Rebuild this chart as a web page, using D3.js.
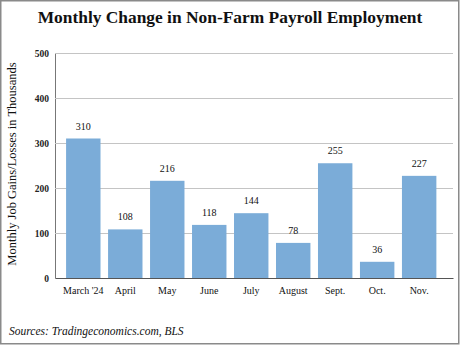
<!DOCTYPE html>
<html>
<head>
<meta charset="utf-8">
<script src="https://cdn.jsdelivr.net/npm/d3@7"></script>
<style>
  html, body { margin: 0; padding: 0; background: #fff; }
  svg { display: block; }
</style>
</head>
<body>
<svg id="chart" width="460" height="345"></svg>
<script>
// Monthly change in non-farm payrolls, thousands
const months = ["March '24", "April", "May", "June", "July", "August", "Sept.", "Oct.", "Nov."];
const jobGains = [310, 108, 216, 118, 144, 78, 255, 36, 227];
const yTicks = [0, 100, 200, 300, 400, 500];

const titleText = "Monthly Change in Non-Farm Payroll Employment";
const yTitleText = "Monthly Job Gains/Losses in Thousands";
const sourceText = "Sources: Tradingeconomics.com, BLS";

const serif = "'Liberation Serif', 'DejaVu Serif', serif";
const svg = d3.select("#chart");

const plot = { left: 55, right: 453, top: 53, bottom: 278 };

const x = d3.scaleBand()
  .domain(months)
  .range([plot.left, plot.right])
  .paddingInner(0.18)
  .paddingOuter(0.33)
  .align(0.4);

const y = d3.scaleLinear()
  .domain([0, 500])
  .range([plot.bottom, plot.top]);

// outer frame
svg.append("rect")
  .attr("x", 0.75).attr("y", 0.75)
  .attr("width", 458).attr("height", 343)
  .attr("fill", "none")
  .attr("stroke", "#8a8a8a")
  .attr("stroke-width", 1.5);

// title
svg.append("text")
  .attr("x", 230).attr("y", 23)
  .attr("text-anchor", "middle")
  .attr("font-family", serif)
  .attr("font-weight", "bold")
  .attr("font-size", 17.4)
  .attr("fill", "#111")
  .text(titleText);

// horizontal gridlines
const yAxis = d3.axisLeft(y)
  .tickValues(yTicks)
  .tickSize(-(plot.right - plot.left))
  .tickPadding(6)
  .tickFormat(d3.format("d"));

const gy = svg.append("g")
  .attr("transform", `translate(${plot.left},0)`)
  .call(yAxis);
gy.select(".domain").attr("stroke", "#777").attr("stroke-width", 1);
gy.selectAll(".tick line").attr("stroke", "#c4c4c4").attr("stroke-width", 1);
gy.selectAll(".tick text")
  .attr("font-family", serif)
  .attr("font-weight", "bold")
  .attr("font-size", 9.5)
  .attr("fill", "#222");

// bars
svg.append("g")
  .selectAll("rect")
  .data(jobGains)
  .join("rect")
  .attr("x", (d, i) => x(months[i]))
  .attr("y", d => y(d))
  .attr("width", x.bandwidth())
  .attr("height", d => y(0) - y(d))
  .attr("fill", "#7bacd8");

// value labels
svg.append("g")
  .selectAll("text")
  .data(jobGains)
  .join("text")
  .attr("x", (d, i) => x(months[i]) + x.bandwidth() / 2)
  .attr("y", d => y(d) - 9)
  .attr("text-anchor", "middle")
  .attr("font-family", serif)
  .attr("font-size", 10)
  .attr("fill", "#111")
  .text(d => d);

// baseline and category axis
const xAxis = d3.axisBottom(x).tickSize(0).tickPadding(9);
const gx = svg.append("g")
  .attr("transform", `translate(0,${plot.bottom})`)
  .call(xAxis);
gx.select(".domain").attr("stroke", "#555").attr("stroke-width", 1.2);
gx.selectAll(".tick text")
  .attr("font-family", serif)
  .attr("font-size", 10)
  .attr("fill", "#111");

// y axis title
svg.append("text")
  .attr("transform", "translate(16,164) rotate(-90)")
  .attr("text-anchor", "middle")
  .attr("font-family", serif)
  .attr("font-size", 12.5)
  .attr("fill", "#111")
  .text(yTitleText);

// source note
svg.append("text")
  .attr("x", 9).attr("y", 335)
  .attr("font-family", serif)
  .attr("font-style", "italic")
  .attr("font-size", 11.5)
  .attr("fill", "#111")
  .text(sourceText);
</script>
</body>
</html>
